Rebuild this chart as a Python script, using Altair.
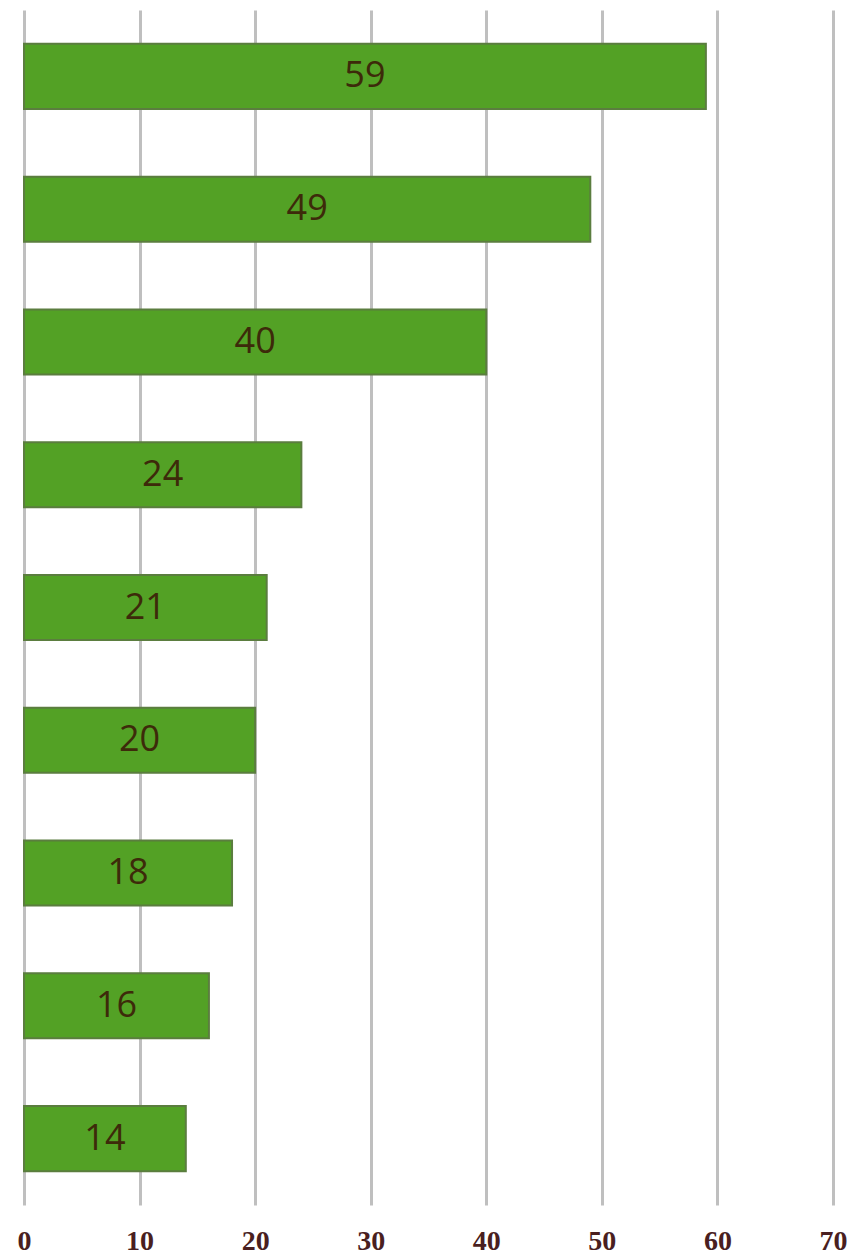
import altair as alt
import pandas as pd

categories = ["Item 1", "Item 2", "Item 3", "Item 4", "Item 5", "Item 6", "Item 7", "Item 8", "Item 9"]
values = [59, 49, 40, 24, 21, 20, 18, 16, 14]
x_ticks = [0, 10, 20, 30, 40, 50, 60, 70]

df = pd.DataFrame({"category": categories, "value": values})

base = alt.Chart(df).encode(
    y=alt.Y("category:N", sort=categories, axis=None,
            scale=alt.Scale(paddingInner=0.51, paddingOuter=0.255)),
)

bars = base.mark_bar(color="#53a125", stroke="#5b7d3f", strokeWidth=2).encode(
    x=alt.X("value:Q", title=None,
            scale=alt.Scale(domain=[0, 70], nice=False),
            axis=alt.Axis(values=x_ticks, grid=True, gridColor="#bfbfbf", gridWidth=3,
                          domain=False, ticks=False, labelPadding=22, labelFlush=False,
                          labelFont="Liberation Serif", labelFontWeight="bold",
                          labelFontSize=28, labelColor="#4a1f1f")),
)

labels = base.transform_calculate(mid="datum.value / 2").mark_text(
    font="Open Sans", fontSize=36, color="#3d2a0a", align="center", baseline="middle"
).encode(
    x=alt.X("mid:Q"),
    text=alt.Text("value:Q"),
)

chart = (bars + labels).properties(
    width=809, height=1195, background="white",
    padding={"left": 9, "top": 2, "right": 0, "bottom": 0},
).configure_view(stroke=None)

chart.save("out.html", embed_options={"renderer": "svg", "actions": False})
